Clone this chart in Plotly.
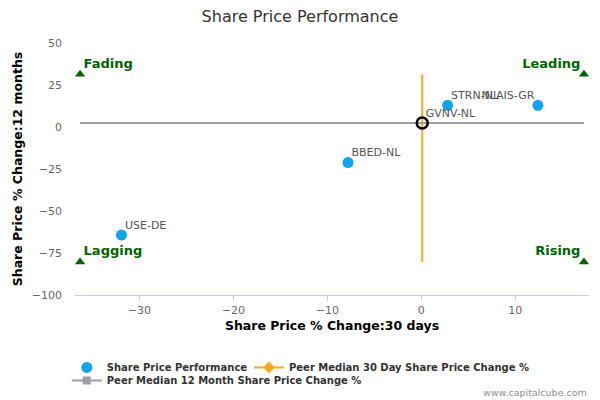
import plotly.graph_objects as go

# Companies: 30 day change (x) vs 12 month change (y)
tickers = ["STRN-NL", "NLAIS-GR", "BBED-NL", "USE-DE"]
chg_30d = [2.8, 12.4, -7.8, -31.9]
chg_12m = [12.9, 12.9, -21.2, -64.3]
label_pos = ["top right", "top left", "top right", "top right"]

# Subject company
subject = "GVNV-NL"
subject_30d = 0.1
subject_12m = 2.4

# Peer medians
peer_median_30d = 0.1
peer_median_12m = 2.4

# Quadrant markers
quadrants = ["Fading", "Leading", "Lagging", "Rising"]
quad_x = [-36.3, 17.3, -36.3, 17.3]
quad_y = [31.4, 31.4, -80.4, -80.4]
quad_pos = ["top right", "top left", "top right", "top left"]

x_ticks = [-30, -20, -10, 0, 10]
y_ticks = [-100, -75, -50, -25, 0, 25, 50]

font = "DejaVu Sans, Verdana, sans-serif"
fig = go.Figure()


def text_layer(x, y, text, pos, size, color, weight="normal"):
    # labels sit on a tiny invisible marker so the offset from the point stays small
    fig.add_trace(go.Scatter(
        x=x, y=y, text=text, textposition=pos, mode="markers+text",
        marker=dict(size=4, opacity=0),
        textfont=dict(family=font, size=size, color=color, weight=weight),
        showlegend=False, hoverinfo="skip", cliponaxis=False
    ))


# peer median lines (drawn first so markers sit on top)
fig.add_trace(go.Scatter(
    x=[peer_median_30d, peer_median_30d], y=[quad_y[0], quad_y[2]],
    mode="lines", line=dict(color="#FFA51E", width=2),
    showlegend=False, hoverinfo="skip"
))
fig.add_trace(go.Scatter(
    x=[quad_x[0], quad_x[1]], y=[peer_median_12m, peer_median_12m],
    mode="lines", line=dict(color="#9A9EA8", width=2),
    showlegend=False, hoverinfo="skip"
))

# quadrant triangles
fig.add_trace(go.Scatter(
    x=quad_x, y=quad_y, mode="markers",
    marker=dict(symbol="triangle-up", color="#006400", size=9),
    showlegend=False, hoverinfo="skip", cliponaxis=False
))
text_layer(quad_x, quad_y, quadrants, quad_pos, 13, "#006400", "bold")

# companies
fig.add_trace(go.Scatter(
    x=chg_30d, y=chg_12m, mode="markers", name="Share Price Performance",
    marker=dict(color="#12A3EE", size=11)
))
text_layer(chg_30d, chg_12m, tickers, label_pos, 11, "#555555")

# subject company
fig.add_trace(go.Scatter(
    x=[subject_30d], y=[subject_12m], mode="markers", showlegend=False,
    marker=dict(color="rgba(0,0,0,0)", size=11, line=dict(color="black", width=2.5))
))
text_layer([subject_30d], [subject_12m], [subject], ["top right"], 11, "#555555")

# legend entries for the median lines
fig.add_trace(go.Scatter(
    x=[None], y=[None], mode="lines+markers", legend="legend3",
    name="Peer Median 30 Day Share Price Change %",
    line=dict(color="#FFA51E", width=2),
    marker=dict(symbol="diamond", color="#FFA51E", size=9)
))
fig.add_trace(go.Scatter(
    x=[None], y=[None], mode="lines+markers", legend="legend2",
    name="Peer Median 12 Month Share Price Change %",
    line=dict(color="#9A9EA8", width=2),
    marker=dict(symbol="square", color="#9A9EA8", size=8)
))

legend_style = dict(orientation="h", xanchor="left", yanchor="top",
                    font=dict(size=10, color="#333333", weight="bold"),
                    itemwidth=30, tracegroupgap=0, bgcolor="rgba(0,0,0,0)")

fig.update_layout(
    width=600, height=400,
    margin=dict(l=75, r=11, t=43, b=105, autoexpand=False),
    paper_bgcolor="white", plot_bgcolor="white",
    font=dict(family=font),
    title=dict(text="Share Price Performance", x=0.5, xanchor="center",
               y=0.96, yanchor="middle", yref="container",
               font=dict(family=font, size=16, color="#333333")),
    xaxis=dict(
        range=[-36.84, 17.84], tickvals=x_ticks, showgrid=False, zeroline=False,
        showline=True, linecolor="#C0D0E0", ticks="outside", tickcolor="#C0D0E0",
        ticklen=5, tickfont=dict(size=11, color="#666666"), automargin=False,
        title=dict(text="Share Price % Change:30 days", standoff=5,
                   font=dict(size=12.5, color="black", weight="bold"))
    ),
    yaxis=dict(
        range=[-100, 50], tickvals=y_ticks, showgrid=False, zeroline=False,
        showline=False, ticklabelstandoff=12, tickfont=dict(size=11, color="#666666"),
        automargin=False,
        title=dict(text="Share Price % Change:12 months", standoff=6,
                   font=dict(size=12.5, color="black", weight="bold"))
    ),
    legend=dict(legend_style, x=-0.016, y=-0.23),
    legend3=dict(legend_style, x=0.3385, y=-0.23),
    legend2=dict(legend_style, x=-0.016, y=-0.282),
    annotations=[dict(text="www.capitalcube.com", xref="paper", yref="paper",
                      x=1, y=-0.385, xanchor="right", yanchor="middle",
                      showarrow=False, font=dict(size=9.5, color="#909090"))]
)

fig.write_html("out.html", config={"displayModeBar": False},
               post_script="document.body.style.margin='0';")
